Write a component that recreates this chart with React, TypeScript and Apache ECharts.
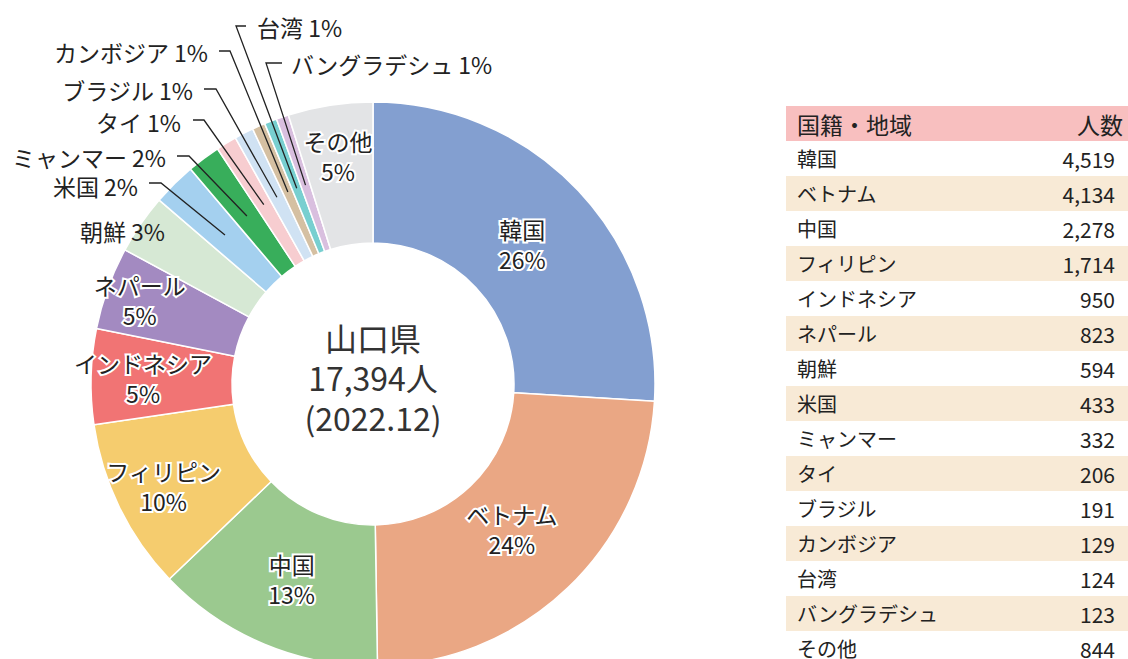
import React, { useEffect, useRef } from "react";
import * as echarts from "echarts";

// ---- data ----
const names = ["韓国", "ベトナム", "中国", "フィリピン", "インドネシア", "ネパール", "朝鮮", "米国", "ミャンマー", "タイ", "ブラジル", "カンボジア", "台湾", "バングラデシュ", "その他"];
const values = [4519, 4134, 2278, 1714, 950, 823, 594, 433, 332, 206, 191, 129, 124, 123, 844];
const centerLines = ["山口県", "17,394人", "(2022.12)"];
const tableHeader = ["国籍・地域", "人数"];

// ---- styles / layout ----
const colors = ["#839fd0", "#eaa784", "#9bc98f", "#f5cc6e", "#f17474", "#a38ac1", "#d6e8d4", "#a4d0ef", "#38ae5b", "#f7cdd0", "#d0e2f3", "#d5c0a2", "#78cfd0", "#d9bfdf", "#e3e4e6"];
const FONT = "'Noto Sans CJK JP', 'Noto Sans', sans-serif";
const CX = 373;
const CY = 384;
const R0 = 141;
const R1 = 282;
const LINE_R = 210;

// inside label radius per item
const insideR: Record<string, number> = {
  "韓国": 205, "ベトナム": 201, "中国": 211, "フィリピン": 233, "インドネシア": 230, "ネパール": 248, "その他": 231,
};
// outside label anchors: text anchor, align, elbow and end of leader line
const outside: Record<string, any> = {
  "朝鮮": { x: 165, y: 231, align: "right", line: null },
  "米国": { x: 138, y: 186, align: "right", line: [[161, 183], [149, 183]] },
  "ミャンマー": { x: 166, y: 157, align: "right", line: [[189, 156], [177, 156]] },
  "タイ": { x: 181, y: 122, align: "right", line: [[204, 120], [193, 120]] },
  "ブラジル": { x: 193, y: 90, align: "right", line: [[216, 89], [204, 89]] },
  "カンボジア": { x: 208, y: 52, align: "right", line: [[230, 51], [219, 51]] },
  "台湾": { x: 257, y: 27, align: "left", line: [[236, 26], [246, 26]] },
  "バングラデシュ": { x: 291, y: 64, align: "left", line: [[266, 63], [282, 63]] },
};

export default function App() {
  const ref = useRef<HTMLDivElement>(null);
  useEffect(() => {
    if (!ref.current) return;
    const chart = echarts.init(ref.current, undefined, { renderer: "svg" });
    const total = values.reduce((a, b) => a + b, 0);
    const midAngles: number[] = [];
    let acc = 0;
    values.forEach((v) => {
      midAngles.push(((acc + v / 2) / total) * Math.PI * 2);
      acc += v;
    });
    const pct = (v: number) => Math.round((v / total) * 100);

    const data = names.map((n, i) => {
      const isIn = insideR[n] !== undefined;
      return {
        name: n,
        value: values[i],
        itemStyle: { color: colors[i] },
        label: isIn
          ? { position: "inside", fontSize: 23, lineHeight: 30, color: "#222", textBorderColor: "#fff", textBorderWidth: 4, fontFamily: FONT }
          : { position: "outside", fontSize: 23, color: "#222", fontFamily: FONT },
        labelLine: { show: false },
      };
    });

    const graphics: any[] = [];
    // leader lines (drawn above the ring)
    names.forEach((n, i) => {
      const o = outside[n];
      if (!o || !o.line) return;
      const a = midAngles[i];
      graphics.push({
        type: "polyline",
        z: 100,
        shape: { points: [[CX + LINE_R * Math.sin(a), CY - LINE_R * Math.cos(a)], o.line[0], o.line[1]] },
        style: { stroke: "#222", lineWidth: 1.3, fill: null },
      });
    });
    centerLines.forEach((t, i) => {
      graphics.push({
        type: "text",
        x: CX,
        y: [337, 377, 417][i],
        style: { text: t, fontSize: 32, fontFamily: FONT, fill: "#333", textAlign: "center", textVerticalAlign: "middle", align: "center", verticalAlign: "middle" },
      });
    });
    const TX = 786, TW = 342, TY = 106, RH = 35;
    graphics.push({ type: "rect", shape: { x: TX, y: TY, width: TW, height: RH }, style: { fill: "#f8bfbf" } });
    graphics.push({ type: "text", x: 797, y: TY + RH / 2, style: { text: tableHeader[0], fontSize: 23, fontFamily: FONT, fill: "#222", textAlign: "left", textVerticalAlign: "middle", align: "left", verticalAlign: "middle" } });
    graphics.push({ type: "text", x: 1123, y: TY + RH / 2, style: { text: tableHeader[1], fontSize: 23, fontFamily: FONT, fill: "#222", textAlign: "right", textVerticalAlign: "middle", align: "right", verticalAlign: "middle" } });
    names.forEach((n, i) => {
      const y = TY + RH * (i + 1);
      if (i % 2 === 1) graphics.push({ type: "rect", shape: { x: TX, y, width: TW, height: RH }, style: { fill: "#f8ead6" } });
      graphics.push({ type: "text", x: 797, y: y + RH / 2, style: { text: n, fontSize: 20, fontFamily: FONT, fill: "#222", textAlign: "left", textVerticalAlign: "middle", align: "left", verticalAlign: "middle" } });
      graphics.push({ type: "text", x: 1115, y: y + RH / 2, style: { text: values[i].toLocaleString("en-US"), fontSize: 21, fontFamily: FONT, fill: "#222", textAlign: "right", textVerticalAlign: "middle", align: "right", verticalAlign: "middle" } });
    });

    chart.setOption({
      animation: false,
      graphic: graphics,
      series: [
        {
          type: "pie",
          center: [CX, CY],
          radius: [R0, R1],
          startAngle: 90,
          clockwise: true,
          avoidLabelOverlap: false,
          itemStyle: { borderColor: "#fff", borderWidth: 1.5 },
          label: {
            formatter: (p: any) => (insideR[p.name] !== undefined ? `${p.name}\n${pct(p.value)}%` : `${p.name} ${pct(p.value)}%`),
          },
          labelLayout: (params: any) => {
            const i = params.dataIndex;
            const n = names[i];
            const a = midAngles[i];
            if (insideR[n] !== undefined) {
              const r = insideR[n];
              return { x: CX + r * Math.sin(a), y: CY - r * Math.cos(a), align: "center", verticalAlign: "middle" };
            }
            const o = outside[n];
            return { x: o.x, y: o.y, align: o.align, verticalAlign: "middle" };
          },
          data,
        },
      ],
    });
    return () => chart.dispose();
  }, []);
  return <div ref={ref} style={{ position: "fixed", left: 0, top: 0, width: 1128, height: 659, background: "#fff" }} />;
}
